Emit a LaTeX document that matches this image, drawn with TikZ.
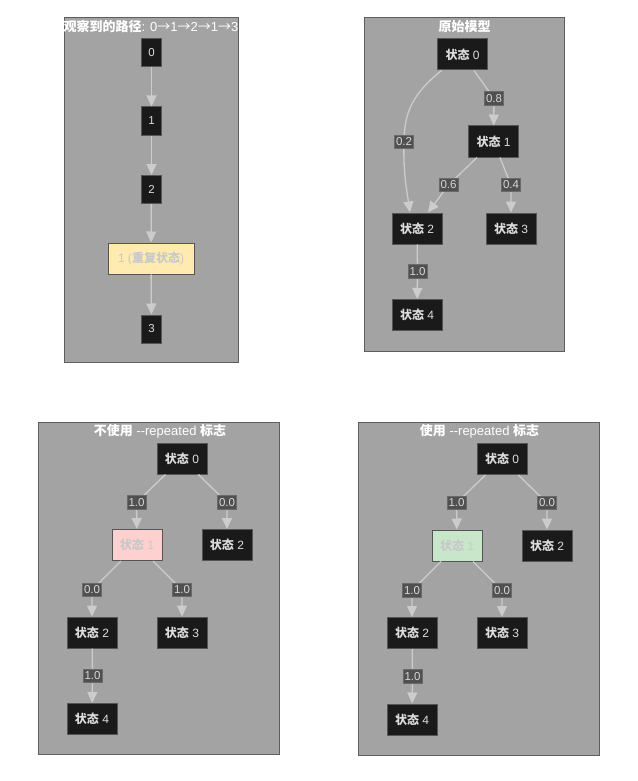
\documentclass[tikz,border=0pt]{standalone}
\usepackage{fontspec}
\setmainfont{Liberation Sans}
\newfontfamily\cjk{Noto Sans CJK SC}
\usetikzlibrary{arrows.meta}
\definecolor{panelbg}{HTML}{A3A3A3}
\definecolor{panelline}{HTML}{5E5E5E}
\definecolor{nodebg}{HTML}{1A1A1A}
\definecolor{nodeline}{HTML}{555555}
\definecolor{nodetext}{HTML}{DDDDDD}
\definecolor{edgec}{HTML}{CCCCCC}
\definecolor{lblbg}{HTML}{505050}
\definecolor{lblline}{HTML}{6A6A6A}
\definecolor{lbltext}{HTML}{D8D8D8}
\definecolor{yellowbg}{HTML}{FFEAB0}
\definecolor{pinkbg}{HTML}{FFD0D0}
\definecolor{greenbg}{HTML}{C8E6C9}
\definecolor{hltext}{HTML}{C8C8C8}
\newcommand\ztai{{\cjk\bfseries 状态}}
\newcommand\cjkb[1]{{\cjk\bfseries #1}}
\newcommand\rarr{{\cjk →}}
\tikzset{
  panel/.style={draw=panelline, fill=panelbg, line width=1pt},
  ptitle/.style={text=white, font=\fontsize{13}{14}\selectfont, inner sep=0pt},
  stnode/.style={draw=nodeline, fill=nodebg, line width=1pt, text=nodetext,
    font=\fontsize{12}{13}\selectfont, minimum width=50pt, minimum height=31pt, inner sep=0pt},
  numnode/.style={stnode, minimum width=20pt, minimum height=28pt, font=\fontsize{11.5}{12}\selectfont},
  hlnode/.style={stnode, text=hltext},
  lbl/.style={fill=lblbg, draw=lblline, line width=0.6pt, text=lbltext,
    font=\fontsize{11.5}{12}\selectfont, inner xsep=1.5pt, inner ysep=0.5pt, minimum height=13.5pt},
  arr/.style={draw=edgec, line width=1.3pt, -{Triangle[length=11pt,width=10pt]}}
}
\begin{document}
\begin{tikzpicture}[x=1pt,y=-1pt]
\useasboundingbox (0,0) rectangle (637,781);
% panels
\draw[panel] (64,18) rectangle (238,362.5);
\draw[panel] (364,18) rectangle (564,351.5);
\draw[panel] (38.5,422.5) rectangle (279.5,754.5);
\draw[panel] (358.5,422.5) rectangle (599.5,755);
% titles
\node[ptitle] (ta) at (151,26.5) {\cjkb{观察到的路径}: 0\rarr1\rarr2\rarr1\rarr3};
\node[ptitle] (tb) at (464.5,26.5) {\cjkb{原始模型}};
\node[ptitle] (tc) at (160,431.5) {\cjkb{不使用} {-}{-}repeated \cjkb{标志}};
\node[ptitle] (td) at (479.5,431.5) {\cjkb{使用} {-}{-}repeated \cjkb{标志}};
% panel A
\node[numnode] (a0) at (151.5,52.5) {0};
\node[numnode] (a1) at (151.5,121) {1};
\node[numnode] (a2) at (151.5,189.5) {2};
\node[stnode, fill=yellowbg, text=hltext, minimum width=86pt] (a3) at (151,258.5) {1 (\cjkb{重复状态})};
\node[numnode] (a4) at (151.5,329) {3};
\draw[arr] (a0) -- (a1);
\draw[arr] (a1) -- (a2);
\draw[arr] (a2) -- (a3);
\draw[arr] (a3) -- (a4);
% panel B
\node[stnode] (b0) at (462.5,54.5) {\ztai{} 0};
\node[stnode] (b1) at (493.5,141.5) {\ztai{} 1};
\node[stnode] (b2) at (417,228.5) {\ztai{} 2};
\node[stnode] (b3) at (511,228.5) {\ztai{} 3};
\node[stnode] (b4) at (417,315) {\ztai{} 4};
\coordinate (lb08) at (494,98.5);
\coordinate (lb02) at (404,142);
\coordinate (lb06) at (448.5,185);
\coordinate (lb04) at (511,185);
\coordinate (lb10) at (417.5,271.5);
\draw[arr] (b0) -- (lb08) -- (b1);
\draw[arr] ([xshift=-21pt]b0.south) .. controls (415,92) and (404,110) .. (lb02)
  .. controls (403,172) and (407,192) .. ([xshift=-7pt]b2.north);
\draw[arr] (b1) -- (lb06) -- ([xshift=11pt]b2.north);
\draw[arr] (b1) -- (lb04) -- (b3);
\draw[arr] (b2) -- (lb10) -- (b4);
\node[lbl] (nb08) at (lb08) {0.8};
\node[lbl] (nb02) at (lb02) {0.2};
\node[lbl] (nb06) at (lb06) {0.6};
\node[lbl] (nb04) at (lb04) {0.4};
\node[lbl] (nb10) at (lb10) {1.0};
% panel C
\node[stnode] (c0) at (182,458.5) {\ztai{} 0};
\node[hlnode, fill=pinkbg] (c1) at (137,545) {\ztai{} 1};
\node[stnode] (c2) at (227,545) {\ztai{} 2};
\node[stnode] (c3) at (92,632.5) {\ztai{} 2};
\node[stnode] (c4) at (182,632.5) {\ztai{} 3};
\node[stnode] (c5) at (92,719) {\ztai{} 4};
\coordinate (lc1) at (136.5,502.5);
\coordinate (lc2) at (227,502.5);
\coordinate (lc3) at (92,590);
\coordinate (lc4) at (182,590);
\coordinate (lc5) at (92.5,676);
\draw[arr] (c0) -- (lc1) -- (c1);
\draw[arr] (c0) -- (lc2) -- (c2);
\draw[arr] (c1) -- (lc3) -- (c3);
\draw[arr] (c1) -- (lc4) -- (c4);
\draw[arr] (c3) -- (lc5) -- (c5);
\node[lbl] (nc1) at (lc1) {1.0};
\node[lbl] (nc2) at (lc2) {0.0};
\node[lbl] (nc3) at (lc3) {0.0};
\node[lbl] (nc4) at (lc4) {1.0};
\node[lbl] (nc5) at (lc5) {1.0};
% panel D
\node[stnode] (d0) at (502,459) {\ztai{} 0};
\node[hlnode, fill=greenbg] (d1) at (457,545.5) {\ztai{} 1};
\node[stnode] (d2) at (547,545.5) {\ztai{} 2};
\node[stnode] (d3) at (412,633) {\ztai{} 2};
\node[stnode] (d4) at (502,633) {\ztai{} 3};
\node[stnode] (d5) at (412,719.5) {\ztai{} 4};
\coordinate (ld1) at (456.5,503);
\coordinate (ld2) at (547,503);
\coordinate (ld3) at (412,590.5);
\coordinate (ld4) at (502,590.5);
\coordinate (ld5) at (412.5,676.5);
\draw[arr] (d0) -- (ld1) -- (d1);
\draw[arr] (d0) -- (ld2) -- (d2);
\draw[arr] (d1) -- (ld3) -- (d3);
\draw[arr] (d1) -- (ld4) -- (d4);
\draw[arr] (d3) -- (ld5) -- (d5);
\node[lbl] (nd1) at (ld1) {1.0};
\node[lbl] (nd2) at (ld2) {0.0};
\node[lbl] (nd3) at (ld3) {1.0};
\node[lbl] (nd4) at (ld4) {0.0};
\node[lbl] (nd5) at (ld5) {1.0};
\end{tikzpicture}
\end{document}
